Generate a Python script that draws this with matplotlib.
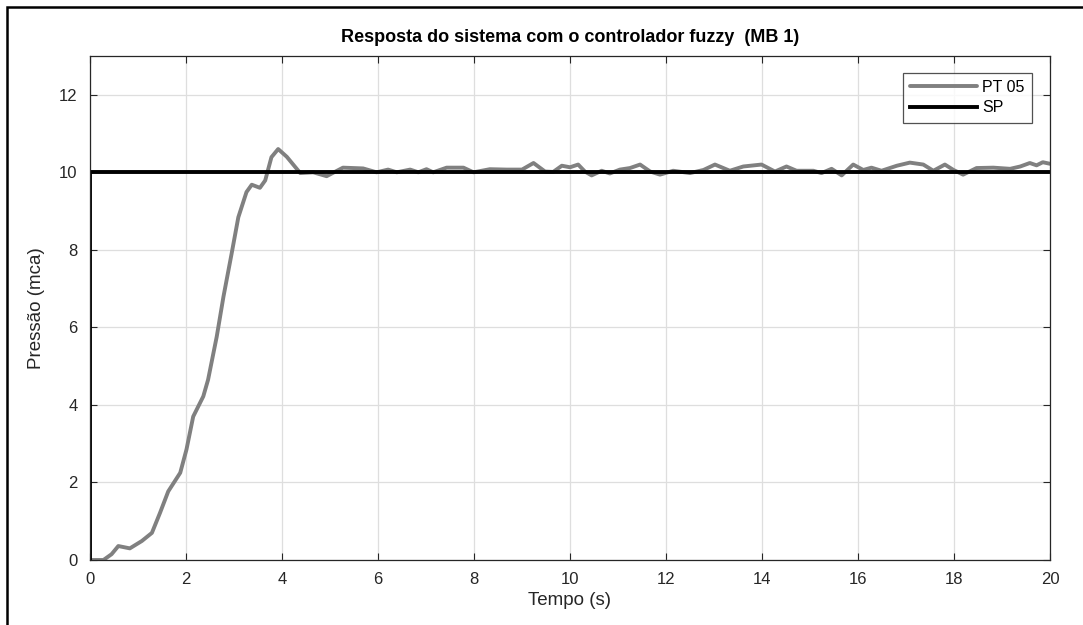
import matplotlib
matplotlib.use("Agg")
import matplotlib.pyplot as plt
from matplotlib.patches import Rectangle

plt.rcParams['font.family'] = ['Liberation Sans', 'DejaVu Sans']

# PT 05 response (time s, pressure mca)
t_pt = [0.0, 0.28, 0.45, 0.59, 0.83, 1.08, 1.29, 1.46, 1.63, 1.88, 2.01, 2.15, 2.36,
        2.46, 2.64, 2.78, 2.95, 3.09, 3.26, 3.37, 3.54, 3.65, 3.78, 3.92, 4.1, 4.38,
        4.65, 4.93, 5.27, 5.69, 5.97, 6.21, 6.39, 6.67, 6.84, 7.01, 7.15, 7.43, 7.78,
        7.99, 8.33, 8.68, 9.0, 9.24, 9.48, 9.65, 9.83, 10.0, 10.17, 10.31, 10.45,
        10.66, 10.83, 11.04, 11.25, 11.46, 11.67, 11.875, 12.15, 12.5, 12.78, 13.02,
        13.33, 13.61, 13.99, 14.27, 14.51, 14.72, 15.07, 15.24, 15.45, 15.66, 15.9,
        16.11, 16.28, 16.49, 16.81, 17.08, 17.36, 17.57, 17.81, 17.99, 18.19, 18.47,
        18.82, 19.17, 19.38, 19.58, 19.72, 19.85, 20.0]
p_pt = [0.0, 0.0, 0.15, 0.36, 0.30, 0.49, 0.70, 1.22, 1.77, 2.25, 2.85, 3.70, 4.22,
        4.65, 5.76, 6.79, 7.90, 8.84, 9.49, 9.68, 9.60, 9.79, 10.39, 10.60, 10.40, 9.98,
        10.0, 9.90, 10.12, 10.10, 10.0, 10.07, 10.0, 10.07, 10.0, 10.08, 10.0, 10.12, 10.12,
        10.0, 10.08, 10.07, 10.07, 10.24, 10.02, 10.01, 10.17, 10.13, 10.2, 10.02, 9.92,
        10.04, 9.97, 10.07, 10.11, 10.2, 10.02, 9.94, 10.04, 9.98, 10.06, 10.2,
        10.04, 10.15, 10.2, 10.02, 10.15, 10.04, 10.04, 9.98, 10.09, 9.92, 10.2,
        10.06, 10.12, 10.04, 10.17, 10.25, 10.2, 10.04, 10.2, 10.06, 9.94, 10.11,
        10.12, 10.09, 10.15, 10.24, 10.18, 10.26, 10.22]

# Set point
t_sp = [0.0, 0.0, 20.0]
p_sp = [0.0, 10.0, 10.0]

x_ticks = [0, 2, 4, 6, 8, 10, 12, 14, 16, 18, 20]
y_ticks = [0, 2, 4, 6, 8, 10, 12]

fig = plt.figure(figsize=(10.83, 6.25), dpi=100)
ax = fig.add_axes([90/1083, 1 - 560/625, 960/1083, 504/625])

ax.plot(t_pt, p_pt, color='#808080', lw=2.8, label='PT 05',
        solid_capstyle='round', solid_joinstyle='round')
ax.plot(t_sp, p_sp, color='black', lw=2.8, label='SP')

ax.set_xlim(0, 20)
ax.set_ylim(0, 13)
ax.set_xticks(x_ticks)
ax.set_yticks(y_ticks)
ax.grid(True, color='#dedede', lw=0.9)
ax.set_axisbelow(True)
ax.tick_params(direction='in', top=True, right=True, labelsize=12, colors='#262626',
               length=5, width=0.8, pad=9)
for s in ax.spines.values():
    s.set_color('#262626')
    s.set_linewidth(0.9)

ax.set_xlabel('Tempo (s)', fontsize=13.5, color='#262626', labelpad=3)
ax.set_ylabel('Pressão (mca)', fontsize=13.5, color='#262626', labelpad=10)
ax.set_title('Resposta do sistema com o controlador fuzzy  (MB 1)', fontsize=13,
             fontweight='bold', pad=10)

leg = ax.legend(loc='upper right', bbox_to_anchor=(0.981, 0.967), fontsize=11.5,
                frameon=True, fancybox=False, handlelength=4.2, handletextpad=0.3,
                borderpad=0.45, labelspacing=0.35, borderaxespad=0)
leg.get_frame().set_edgecolor('#262626')
leg.get_frame().set_linewidth(0.9)

# image border (left and top only visible)
fig.add_artist(Rectangle((7/1083, -0.1), 1.2, (1 - 7/625) + 0.1, transform=fig.transFigure,
                         fill=False, edgecolor='black', lw=1.8))

fig.savefig('out.png', dpi=100)
